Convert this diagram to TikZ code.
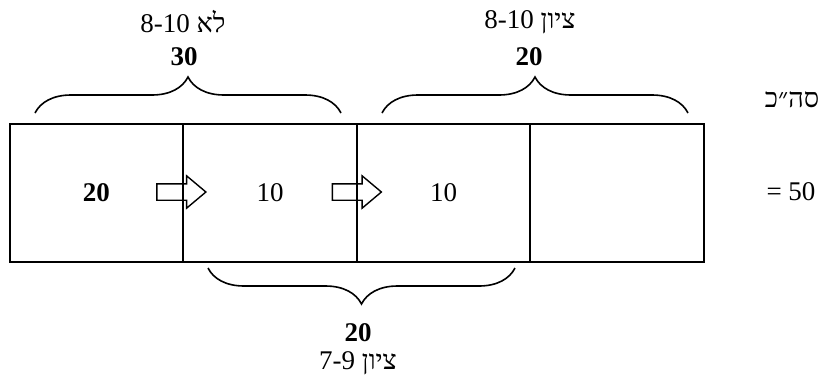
\documentclass[tikz,border=0pt]{standalone}
\usepackage{fontspec}
\setmainfont{Liberation Serif}
\newfontfamily\hebfont[Script=Hebrew]{Liberation Serif}
\TeXXeTstate=1
\usetikzlibrary{shapes.arrows,decorations.pathreplacing}

\begin{document}
\begin{tikzpicture}[
  x=0.5pt, y=-0.5pt,
  cell/.style={draw,line width=1pt,minimum width=86.75pt,minimum height=69pt,inner sep=0pt,font=\fontsize{13.5}{16}\selectfont},
  movearrow/.style={single arrow,draw,line width=0.7pt,minimum height=24.5pt,inner xsep=0pt,inner ysep=3.75pt,single arrow head extend=4pt,single arrow tip angle=80},
  brc/.style={decorate,decoration={brace,amplitude=18pt},line width=0.8pt},
  lbl/.style={inner sep=0pt,font=\fontsize{13.5}{16}\selectfont},
  blbl/.style={inner sep=0pt,font=\fontsize{13.5}{16}\selectfont\bfseries}
]
  \useasboundingbox (0,0) rectangle (820,376);
  \node[cell] (c1) at (96.5,193) {\bfseries 20};
  \node[cell] (c2) at (270,193) {10};
  \node[cell] (c3) at (443.5,193) {10};
  \node[cell] (c4) at (617,193) {};
  \node[movearrow] (a1) at (176.5,192) {};
  \node[movearrow] (a2) at (352,192) {};
  \coordinate (t1a) at (35,113);
  \coordinate (t1b) at (341,113);
  \coordinate (t2a) at (382,113);
  \coordinate (t2b) at (688,113);
  \coordinate (b1a) at (515,268);
  \coordinate (b1b) at (208,268);
  \draw[brc] (t1a) -- (t1b);
  \draw[brc] (t2a) -- (t2b);
  \draw[brc] (b1a) -- (b1b);
  \node[lbl] (h1) at (183,22) {\hebfont\beginR לא \beginL8-10\endL\endR};
  \node[blbl] (n1) at (184,57) {30};
  \node[lbl] (h2) at (530,22) {\hebfont\beginR ציון \beginL8-10\endL\endR};
  \node[blbl] (n2) at (529,57) {20};
  \node[blbl] (n3) at (358,333) {20};
  \node[lbl] (h3) at (358,363) {\hebfont\beginR ציון \beginL7-9\endL\endR};
  \node[lbl] (tot) at (792,100) {\hebfont\beginR סה״כ\endR};
  \node[lbl] (sum) at (791,192) {= 50};
\end{tikzpicture}
\end{document}
